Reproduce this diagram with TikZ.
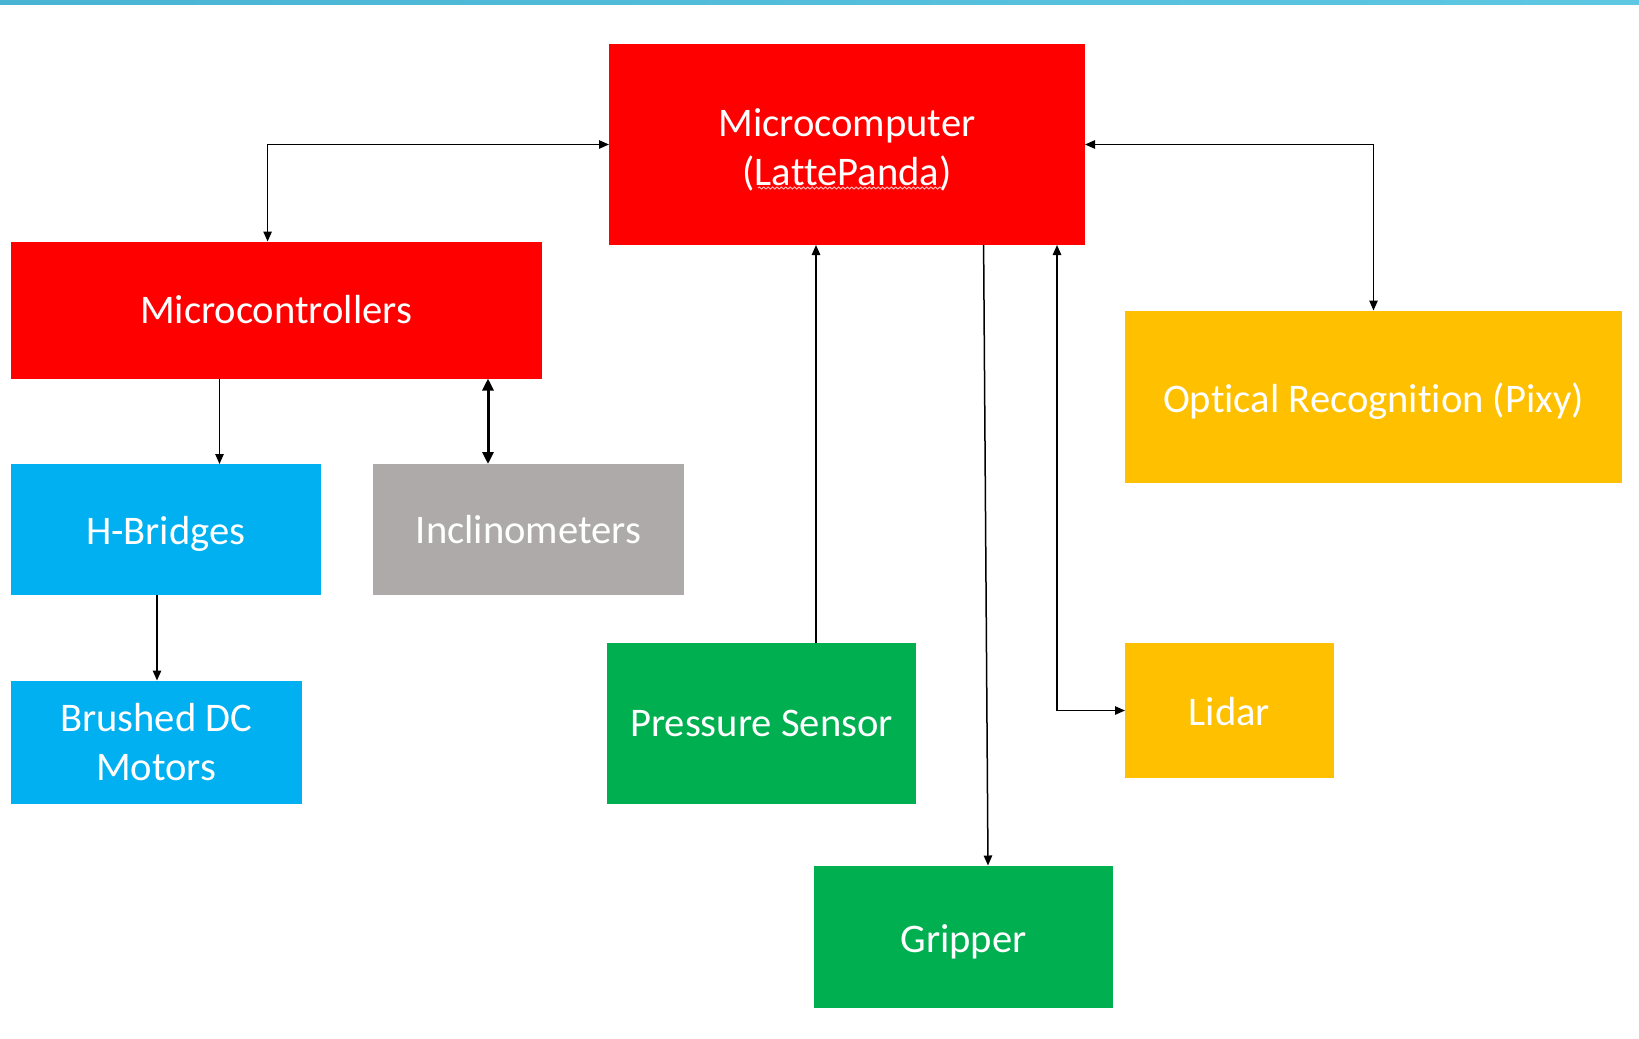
\documentclass[tikz,border=0pt]{standalone}
\usepackage{fontspec}
\setmainfont{Carlito}[Ligatures=NoCommon]
\usetikzlibrary{arrows.meta,decorations.pathmorphing}
\definecolor{cred}{HTML}{FF0000}
\definecolor{cblue}{HTML}{00B0F0}
\definecolor{cgrey}{HTML}{AEAAAA}
\definecolor{cgreen}{HTML}{00B050}
\definecolor{cyel}{HTML}{FFC000}
\definecolor{barL}{HTML}{48B3D3}
\definecolor{barR}{HTML}{5EC8E3}
\tikzset{
  blk/.style={rectangle,draw=none,inner sep=0pt,outer sep=0pt},
  txt/.style={inner sep=0pt,text=white,align=center,font=\fontsize{20.3}{24.5}\selectfont},
  conn/.style={draw=black,line width=0.75pt,-{Triangle[length=5pt,width=4.2pt]}},
  bconn/.style={draw=black,line width=0.75pt,{Triangle[length=5pt,width=4.2pt]}-{Triangle[length=5pt,width=4.2pt]}},
  tconn/.style={draw=black,line width=1.5pt,{Triangle[length=6pt,width=5.5pt]}-{Triangle[length=6pt,width=5.5pt]}}
}
\begin{document}
\begin{tikzpicture}[x=0.5pt,y=-0.5pt]
\useasboundingbox (0,0) rectangle (1639,1039);
\fill[white] (0,0) rectangle (1639,1039);
\shade[left color=barL,right color=barR] (0,0) rectangle (1639,4);

\node[blk,fill=cred,minimum width=238pt,minimum height=100.5pt] (mc) at (847,144.5) {};
\node[blk,fill=cred,minimum width=265.5pt,minimum height=68.5pt] (mcu) at (276,310) {};
\node[blk,fill=cblue,minimum width=155.25pt,minimum height=65.5pt] (hb) at (165.75,529.5) {};
\node[blk,fill=cgrey,minimum width=155.5pt,minimum height=65.5pt] (inc) at (528.5,529.5) {};
\node[blk,fill=cblue,minimum width=145.75pt,minimum height=61.75pt] (dc) at (156.25,742.25) {};
\node[blk,fill=cgreen,minimum width=154.5pt,minimum height=80.5pt] (ps) at (761.5,723.5) {};
\node[blk,fill=cgreen,minimum width=149.5pt,minimum height=71.25pt] (gr) at (963.5,936.75) {};
\node[blk,fill=cyel,minimum width=104.5pt,minimum height=67.5pt] (li) at (1229.5,710.5) {};
\node[blk,fill=cyel,minimum width=248.5pt,minimum height=86.25pt] (op) at (1373.5,396.75) {};

\node[txt] (mc-t) at ([yshift=-2.6pt]mc.center) {Microcomputer\\(LattePanda)};
\node[txt] (mcu-t) at (mcu.center) {Microcontrollers};
\node[txt] (hb-t) at ([yshift=-2.1pt]hb.center) {H-Bridges};
\node[txt] (inc-t) at (inc.center) {Inclinometers};
\node[txt] (dc-t) at (dc.center) {Brushed DC\\Motors};
\node[txt] (ps-t) at (ps.center) {Pressure Sensor};
\node[txt] (gr-t) at ([yshift=-2.6pt]gr.center) {Gripper};
\node[txt] (li-t) at ([yshift=-0.6pt]li.center) {Lidar};
\node[txt] (op-t) at ([yshift=-2.1pt]op.center) {Optical Recognition (Pixy)};

% spell-check squiggle under LattePanda
\draw[white!70!red,line width=0.5pt,decorate,decoration={snake,amplitude=0.5pt,segment length=2.2pt}] (758,188) -- (942,188);

\coordinate (xa) at (267.6,0);
\coordinate (xb) at (219.5,0);
\coordinate (xc) at (488,0);
\coordinate (xd) at (157,0);
\coordinate (xe) at (816,0);
\coordinate (xf) at (983.6,0);
\coordinate (xg) at (988,0);
\coordinate (xh) at (1057,0);

\draw[bconn] (mc.west) -| (mcu.north -| xa);
\draw[conn] (mcu.south -| xb) -- (hb.north -| xb);
\draw[tconn] (mcu.south -| xc) -- (inc.north -| xc);
\draw[conn] (hb.south -| xd) -- (dc.north -| xd);
\draw[conn] (ps.north -| xe) -- (mc.south -| xe);
\draw[conn] (mc.south -| xf) -- (gr.north -| xg);
\draw[bconn] (mc.south -| xh) |- (li.west);
\draw[bconn] (mc.east) -| (op.north);
\end{tikzpicture}
\end{document}
